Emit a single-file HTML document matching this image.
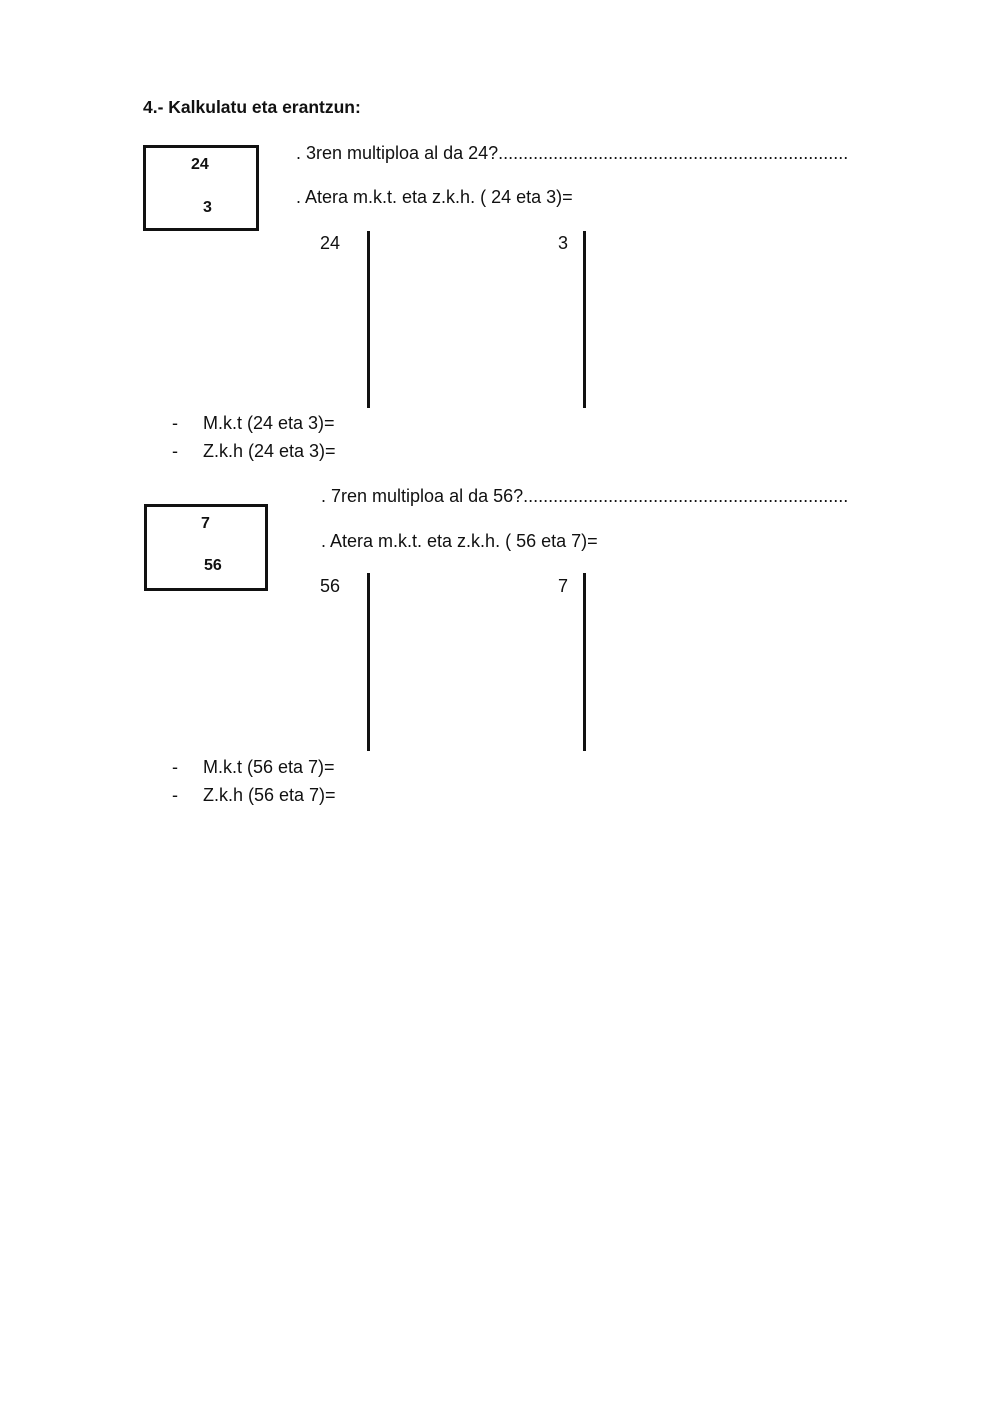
<!DOCTYPE html>
<html><head><meta charset="utf-8"><style>
html,body{margin:0;padding:0;background:#fff;}
body{width:1000px;height:1413px;position:relative;overflow:hidden;font-family:"Liberation Sans",sans-serif;color:#111;}
.t{position:absolute;white-space:nowrap;font-size:18px;line-height:22px;}
.b{font-weight:bold;}
.box{position:absolute;border:3px solid #111;box-sizing:border-box;}
.v{position:absolute;width:3px;background:#111;}
.dots{position:absolute;white-space:nowrap;overflow:hidden;font-size:18px;line-height:22px;}
</style></head><body>
<div class="t b" style="left:143px;top:96px;font-size:17.5px;">4.- Kalkulatu eta erantzun:</div>

<div class="box" style="left:143px;top:145px;width:116px;height:86px;"></div>
<div class="t b" style="left:191px;top:154px;font-size:16px;">24</div>
<div class="t b" style="left:203px;top:197px;font-size:16px;">3</div>
<div class="dots" style="left:296px;top:142px;width:553px;">. 3ren multiploa al da 24?..........................................................................................................</div>
<div class="t" style="left:296px;top:186px;">. Atera m.k.t. eta z.k.h. ( 24 eta 3)=</div>
<div class="t" style="left:320px;top:232px;">24</div>
<div class="v" style="left:367px;top:231px;height:177px;"></div>
<div class="t" style="left:558px;top:232px;">3</div>
<div class="v" style="left:583px;top:231px;height:177px;"></div>
<div class="t" style="left:172px;top:412px;">-</div>
<div class="t" style="left:203px;top:412px;">M.k.t (24 eta 3)=</div>
<div class="t" style="left:172px;top:440px;">-</div>
<div class="t" style="left:203px;top:440px;">Z.k.h (24 eta 3)=</div>

<div class="dots" style="left:321px;top:485px;width:528px;">. 7ren multiploa al da 56?..........................................................................................................</div>
<div class="box" style="left:144px;top:504px;width:124px;height:87px;"></div>
<div class="t b" style="left:201px;top:513px;font-size:16px;">7</div>
<div class="t b" style="left:204px;top:555px;font-size:16px;">56</div>
<div class="t" style="left:321px;top:530px;">. Atera m.k.t. eta z.k.h. ( 56 eta 7)=</div>
<div class="t" style="left:320px;top:575px;">56</div>
<div class="v" style="left:367px;top:573px;height:178px;"></div>
<div class="t" style="left:558px;top:575px;">7</div>
<div class="v" style="left:583px;top:573px;height:178px;"></div>
<div class="t" style="left:172px;top:756px;">-</div>
<div class="t" style="left:203px;top:756px;">M.k.t (56 eta 7)=</div>
<div class="t" style="left:172px;top:784px;">-</div>
<div class="t" style="left:203px;top:784px;">Z.k.h (56 eta 7)=</div>
</body></html>
